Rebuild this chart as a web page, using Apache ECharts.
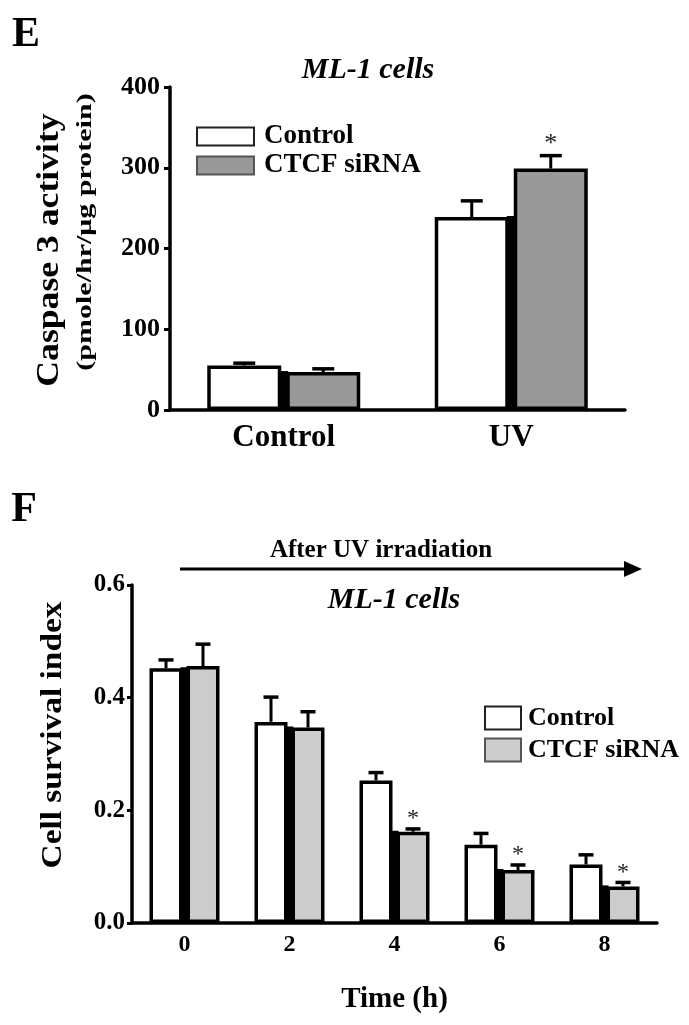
<!DOCTYPE html>
<html><head><meta charset="utf-8">
<script src="https://cdn.jsdelivr.net/npm/echarts@6/dist/echarts.min.js"></script>
<style>html,body{margin:0;padding:0;background:#fff}#c{width:689px;height:1025px}</style>
</head><body><div id="c"></div>
<script>
// ---- Panel E: Caspase 3 activity ----
const casCategories = ['Control', 'UV'];
const casControl = [55, 239];
const casControlErr = [58, 259];
const casSiRNA = [47, 299];
const casSiRNAErr = [51, 315];
const casSig = [0, 1];
const casTicks = [0, 100, 200, 300, 400];

// ---- Panel F: Cell survival index ----
const survCategories = ['0', '2', '4', '6', '8'];
const survControl = [0.452, 0.357, 0.253, 0.139, 0.104];
const survControlErr = [0.467, 0.401, 0.267, 0.159, 0.121];
const survSiRNA = [0.456, 0.347, 0.162, 0.094, 0.065];
const survSiRNAErr = [0.495, 0.375, 0.167, 0.103, 0.072];
const survSig = [0, 0, 1, 1, 1];
const survTicks = [0.0, 0.2, 0.4, 0.6];

const FONT = '"Liberation Serif","Times New Roman",serif';
const chart = echarts.init(document.getElementById('c'), null, {renderer: 'canvas'});

function errRenderer(off, gap, cap, starFont) {
  return function (params, api) {
    const i = api.value(0);
    const base = api.coord([i, 0]);
    const cx = base[0], y0 = base[1];
    const Y = v => api.coord([i, v])[1];
    const a = api.value(1), ae = api.value(2), b = api.value(3), be = api.value(4), s = api.value(5);
    const ch = [];
    const top = Y(Math.min(a, b)) - 1;
    ch.push({type: 'rect', shape: {x: cx - gap / 2, y: top, width: gap, height: y0 - top}, style: {fill: '#000'}});
    [[cx - off, a, ae], [cx + off, b, be]].forEach(([x, v, e]) => {
      ch.push({type: 'line', shape: {x1: x, y1: Y(v), x2: x, y2: Y(e)}, style: {stroke: '#000', lineWidth: 3}});
      ch.push({type: 'line', shape: {x1: x - cap / 2, y1: Y(e), x2: x + cap / 2, y2: Y(e)}, style: {stroke: '#000', lineWidth: 3.5}});
    });
    if (s) {
      ch.push({type: 'text', x: cx + off, y: Y(be) + 2, style: {text: '*', font: starFont, align: 'center', verticalAlign: 'bottom', fill: '#222'}});
    }
    return {type: 'group', children: ch};
  };
}

const axisLine = {show: true, lineStyle: {color: '#000', width: 3.5}};

const option = {
  animation: false,
  backgroundColor: '#fff',
  grid: [
    {left: 170, top: 87, width: 455, height: 323, outerBoundsMode: 'none'},
    {left: 132, top: 585, width: 525, height: 338, outerBoundsMode: 'none'}
  ],
  xAxis: [
    {gridIndex: 0, type: 'category', data: casCategories, axisLine: axisLine, axisTick: {show: false},
     axisLabel: {color: '#000', fontFamily: FONT, fontWeight: 'bold', fontSize: 31, margin: 12}},
    {gridIndex: 1, type: 'category', data: survCategories, axisLine: axisLine, axisTick: {show: false},
     axisLabel: {color: '#000', fontFamily: FONT, fontWeight: 'bold', fontSize: 24, margin: 10},
     name: 'Time (h)', nameLocation: 'middle', nameGap: 62,
     nameTextStyle: {color: '#000', fontFamily: FONT, fontWeight: 'bold', fontSize: 29}}
  ],
  yAxis: [
    {gridIndex: 0, type: 'value', min: casTicks[0], max: casTicks[casTicks.length - 1], interval: casTicks[1] - casTicks[0],
     splitLine: {show: false}, axisLine: axisLine, axisTick: {show: true, length: 6, lineStyle: {width: 3, color: '#000'}},
     axisLabel: {color: '#000', fontFamily: FONT, fontWeight: 'bold', fontSize: 26, margin: 10}},
    {gridIndex: 1, type: 'value', min: survTicks[0], max: survTicks[survTicks.length - 1], interval: survTicks[1] - survTicks[0],
     splitLine: {show: false}, axisLine: axisLine, axisTick: {show: true, length: 5, lineStyle: {width: 3, color: '#000'}},
     axisLabel: {color: '#000', fontFamily: FONT, fontWeight: 'bold', fontSize: 25, margin: 7, formatter: v => v.toFixed(1)}}
  ],
  legend: [
    {orient: 'vertical', left: 196, top: 123, padding: 0, itemWidth: 57, itemHeight: 18, itemGap: 2, icon: 'rect',
     selectedMode: false,
     itemStyle: {borderColor: '#222', borderWidth: 2},
     textStyle: {color: '#000', fontFamily: FONT, fontWeight: 'bold', fontSize: 27, lineHeight: 27, padding: [0, 0, 0, 5]},
     data: [{name: 'Control', itemStyle: {color: '#fff'}}, {name: 'CTCF siRNA', itemStyle: {color: '#999999', borderColor: '#555'}}]},
    {orient: 'vertical', left: 484, top: 705, padding: 0, itemWidth: 36, itemHeight: 23, itemGap: 6, icon: 'rect',
     selectedMode: false,
     itemStyle: {borderColor: '#222', borderWidth: 2},
     textStyle: {color: '#000', fontFamily: FONT, fontWeight: 'bold', fontSize: 26, lineHeight: 26, padding: [0, 0, 0, 2]},
     data: [{name: 'Control', itemStyle: {color: '#fff'}}, {name: 'CTCF siRNA', itemStyle: {color: '#cccccc', borderColor: '#555'}}]}
  ],
  series: [
    {name: 'Control', type: 'bar', xAxisIndex: 0, yAxisIndex: 0, data: casControl, barWidth: 74, barGap: '6.76%',
     itemStyle: {color: '#fff', borderColor: '#000', borderWidth: 3.5}},
    {name: 'CTCF siRNA', type: 'bar', xAxisIndex: 0, yAxisIndex: 0, data: casSiRNA, barWidth: 74, barGap: '6.76%',
     itemStyle: {color: '#999999', borderColor: '#000', borderWidth: 3.5}},
    {type: 'custom', xAxisIndex: 0, yAxisIndex: 0, z: 5, silent: true,
     encode: {x: 0, y: [1, 2, 3, 4]},
     data: casCategories.map((c, i) => [i, casControl[i], casControlErr[i], casSiRNA[i], casSiRNAErr[i], casSig[i]]),
     renderItem: errRenderer(39.5, 9, 22, 'normal 26px ' + FONT)},
    {name: 'Control', type: 'bar', xAxisIndex: 1, yAxisIndex: 1, data: survControl, barWidth: 33, barGap: '12.1%',
     itemStyle: {color: '#fff', borderColor: '#000', borderWidth: 3.5}},
    {name: 'CTCF siRNA', type: 'bar', xAxisIndex: 1, yAxisIndex: 1, data: survSiRNA, barWidth: 33, barGap: '12.1%',
     itemStyle: {color: '#cccccc', borderColor: '#000', borderWidth: 3.5}},
    {type: 'custom', xAxisIndex: 1, yAxisIndex: 1, z: 5, silent: true,
     encode: {x: 0, y: [1, 2, 3, 4]},
     data: survCategories.map((c, i) => [i, survControl[i], survControlErr[i], survSiRNA[i], survSiRNAErr[i], survSig[i]]),
     renderItem: errRenderer(18.5, 8, 15, 'normal 24px ' + FONT)}
  ],
  graphic: [
    {type: 'text', x: 26, y: 35, style: {text: 'E', font: 'bold 42px ' + FONT, align: 'center', verticalAlign: 'middle', fill: '#000'}},
    {type: 'text', x: 368, y: 70, style: {text: 'ML-1 cells', font: 'italic bold 30px ' + FONT, align: 'center', verticalAlign: 'middle', fill: '#000'}},
    {type: 'text', x: 50, y: 250, rotation: Math.PI / 2, scaleX: 1.15,
     style: {text: 'Caspase 3 activity', font: 'bold 31px ' + FONT, align: 'center', verticalAlign: 'middle', fill: '#000'}},
    {type: 'text', x: 86, y: 232, rotation: Math.PI / 2, scaleX: 1.5,
     style: {text: '(pmole/hr/\u03bcg protein)', font: 'bold 20px ' + FONT, align: 'center', verticalAlign: 'middle', fill: '#000'}},
    {type: 'text', x: 24, y: 510, style: {text: 'F', font: 'bold 42px ' + FONT, align: 'center', verticalAlign: 'middle', fill: '#000'}},
    {type: 'text', x: 381, y: 551, style: {text: 'After UV irradiation', font: 'bold 25px ' + FONT, align: 'center', verticalAlign: 'middle', fill: '#000'}},
    {type: 'line', shape: {x1: 180, y1: 569, x2: 630, y2: 569}, style: {stroke: '#000', lineWidth: 3}},
    {type: 'polygon', shape: {points: [[624, 561], [642, 569], [624, 577]]}, style: {fill: '#000'}},
    {type: 'text', x: 394, y: 600, style: {text: 'ML-1 cells', font: 'italic bold 30px ' + FONT, align: 'center', verticalAlign: 'middle', fill: '#000'}},
    {type: 'text', x: 54, y: 735, rotation: Math.PI / 2, scaleX: 1.15,
     style: {text: 'Cell survival index', font: 'bold 29px ' + FONT, align: 'center', verticalAlign: 'middle', fill: '#000'}}
  ]
};
chart.setOption(option);
</script></body></html>
